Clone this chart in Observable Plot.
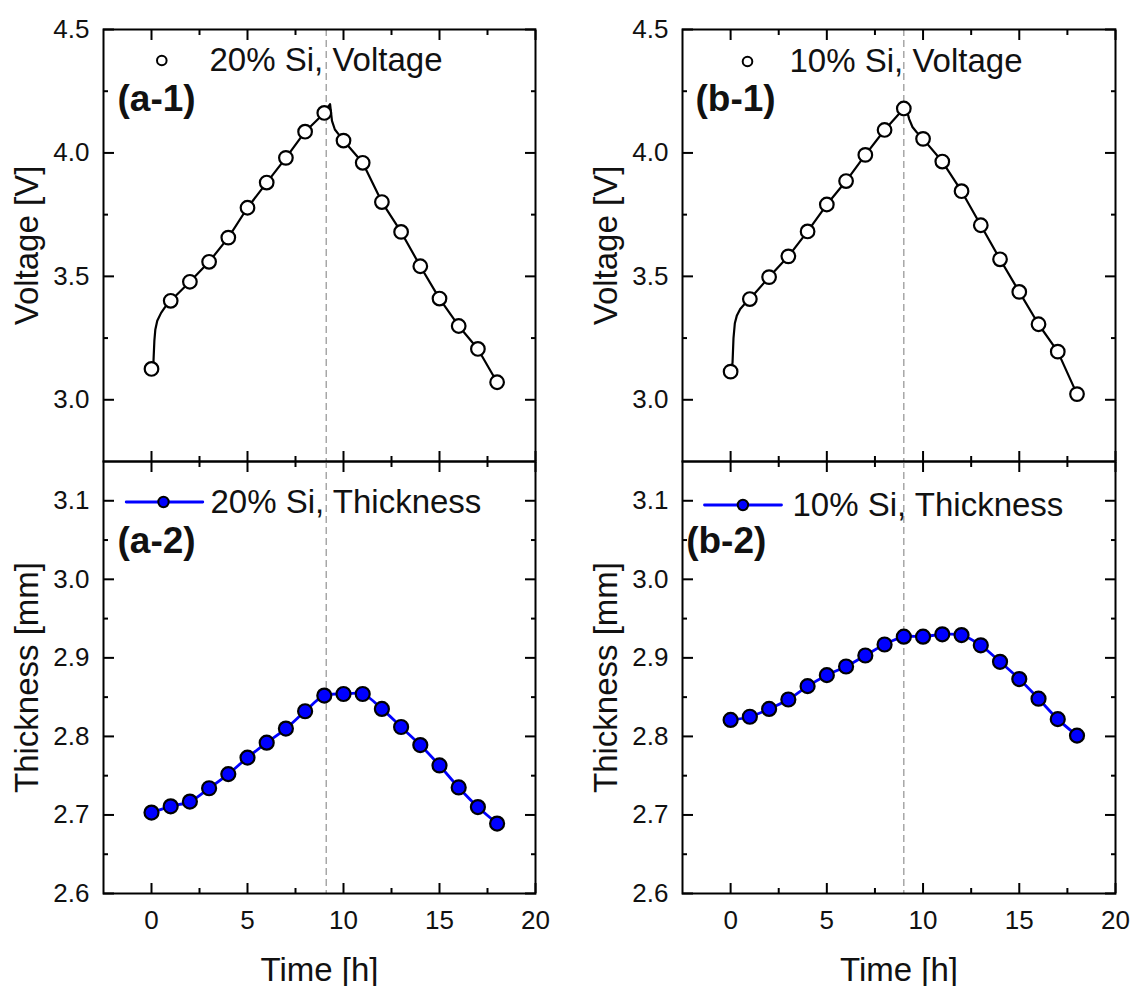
<!DOCTYPE html>
<html>
<head>
<meta charset="utf-8">
<script src="https://cdn.jsdelivr.net/npm/d3@7"></script>
<script src="https://cdn.jsdelivr.net/npm/@observablehq/plot@0.6"></script>
<style>
  body { margin: 0; background: #fff; }
  #chart { position: relative; width: 1133px; height: 986px; background: #fff; }
  #chart > svg { position: absolute; overflow: visible; }
</style>
</head>
<body>
<div id="chart"></div>
<script>
// ---------------- data ----------------
const hours = [0, 1, 2, 3, 4, 5, 6, 7, 8, 9, 10, 11, 12, 13, 14, 15, 16, 17, 18];

// marker values (one per hour)
const voltage20 = [3.125, 3.401, 3.478, 3.559, 3.657, 3.778, 3.880, 3.980, 4.086, 4.162, 4.050, 3.960, 3.801, 3.680, 3.541, 3.410, 3.299, 3.206, 3.071];
const voltage10 = [3.114, 3.408, 3.497, 3.581, 3.682, 3.791, 3.886, 3.992, 4.093, 4.180, 4.057, 3.965, 3.845, 3.707, 3.569, 3.437, 3.306, 3.195, 3.023];
const thickness20 = [2.703, 2.711, 2.717, 2.734, 2.752, 2.773, 2.792, 2.810, 2.832, 2.852, 2.854, 2.854, 2.835, 2.812, 2.789, 2.763, 2.735, 2.710, 2.689];
const thickness10 = [2.821, 2.825, 2.835, 2.847, 2.864, 2.878, 2.889, 2.903, 2.917, 2.927, 2.927, 2.930, 2.929, 2.916, 2.895, 2.873, 2.848, 2.822, 2.801];

// continuous voltage traces
const traceTime20 = [0, 0.1, 0.15, 0.2, 0.3, 0.5, 0.75, 1, 2, 3, 4, 5, 6, 7, 8, 9, 9.3, 9.4, 9.55, 9.75, 10, 11, 12, 13, 14, 15, 16, 17, 18];
const traceVolt20 = [3.125, 3.15, 3.24, 3.285, 3.32, 3.352, 3.38, 3.401, 3.478, 3.559, 3.657, 3.778, 3.880, 3.980, 4.086, 4.162, 4.198, 4.13, 4.095, 4.075, 4.050, 3.960, 3.801, 3.680, 3.541, 3.410, 3.299, 3.206, 3.071];
const traceTime10 = [0, 0.1, 0.15, 0.22, 0.32, 0.5, 0.75, 1, 2, 3, 4, 5, 6, 7, 8, 9, 9.1, 9.28, 9.45, 9.66, 10, 11, 12, 13, 14, 15, 16, 17, 18];
const traceVolt10 = [3.114, 3.15, 3.25, 3.31, 3.34, 3.368, 3.39, 3.408, 3.497, 3.581, 3.682, 3.791, 3.886, 3.992, 4.093, 4.180, 4.19, 4.137, 4.105, 4.085, 4.057, 3.965, 3.845, 3.707, 3.569, 3.437, 3.306, 3.195, 3.023];

// switch time (dashed line)
const switchTime20 = 9.1;
const switchTime10 = 9.0;

// ticks
const xDomain = [-2.5, 20];
const xMajor = [0, 5, 10, 15, 20];
const xMinor = [2.5, 7.5, 12.5, 17.5];
const voltDomain = [2.75, 4.5];
const voltMajor = [3.0, 3.5, 4.0, 4.5];
const voltMinor = [3.25, 3.75, 4.25];
const thickDomain = [2.6, 3.15];
const thickMajor = [2.6, 2.7, 2.8, 2.9, 3.0, 3.1];
const thickMinor = [2.65, 2.75, 2.85, 2.95, 3.05];

// texts
const panelLabels = ["(a-1)", "(a-2)", "(b-1)", "(b-2)"];
const legendLabels = ["20% Si, Voltage", "20% Si, Thickness", "10% Si, Voltage", "10% Si, Thickness"];
const voltTitle = "Voltage [V]";
const thickTitle = "Thickness [mm]";
const timeTitle = "Time [h]";

// ---------------- drawing ----------------
const FONT = '"Liberation Sans", Arial, Helvetica, sans-serif';
const BLUE = "#0000ff";
const INK = "#111";
const TICKFONT = 26;
const fmt1 = d3.format(".1f");
const fmtInt = d3.format("d");

const rows = (xs, ys) => xs.map((x, i) => ({x, y: ys[i]}));

function frameTicks(yMajor, yMinor) {
  const common = {strokeWidth: 2, stroke: "black", fill: "none", label: null};
  return [
    Plot.axisX({...common, anchor: "bottom", ticks: xMajor, tickSize: -10}),
    Plot.axisX({...common, anchor: "bottom", ticks: xMinor, tickSize: -5}),
    Plot.axisX({...common, anchor: "top", ticks: xMajor, tickSize: -10}),
    Plot.axisX({...common, anchor: "top", ticks: xMinor, tickSize: -5}),
    Plot.axisY({...common, anchor: "left", ticks: yMajor, tickSize: -11}),
    Plot.axisY({...common, anchor: "left", ticks: yMinor, tickSize: -5}),
    Plot.axisY({...common, anchor: "right", ticks: yMajor, tickSize: -11}),
    Plot.axisY({...common, anchor: "right", ticks: yMinor, tickSize: -5})
  ];
}

function makePanel(o) {
  const marks = [
    Plot.ruleX([o.dashX], {stroke: "#9a9a9a", strokeWidth: 1.3, strokeDasharray: "7,4"}),
    ...o.series,
    Plot.frame({stroke: "black", strokeWidth: 2}),
    ...frameTicks(o.yMajor, o.yMinor),
    // y tick labels
    Plot.text(o.yMajor, {y: d => d, frameAnchor: "left", dx: -14, textAnchor: "end", lineAnchor: "middle",
      text: fmt1, fontSize: TICKFONT, fill: INK}),
    Plot.text([o.yTitle], {frameAnchor: "left", dx: -76, rotate: -90, fontSize: 33,
      textAnchor: "middle", lineAnchor: "middle", text: d => d, fill: INK}),
    ...o.legend,
    Plot.text([o.panelLabel], {frameAnchor: "top-left", dx: o.labelDx, dy: o.labelDy, fontSize: 37,
      fontWeight: "bold", textAnchor: "start", lineAnchor: "middle", text: d => d, fill: INK})
  ];
  if (o.showX) {
    marks.push(
      Plot.text(xMajor, {x: d => d, frameAnchor: "bottom", dy: 17, textAnchor: "middle", lineAnchor: "top",
        text: fmtInt, fontSize: TICKFONT, fill: INK}),
      Plot.text([timeTitle], {frameAnchor: "bottom", dy: 77, fontSize: 33, textAnchor: "middle",
        lineAnchor: "middle", text: d => d, fill: INK})
    );
  }
  const svg = Plot.plot({
    width: o.width,
    height: o.height,
    marginLeft: o.marginLeft,
    marginRight: o.marginRight,
    marginTop: o.marginTop,
    marginBottom: o.marginBottom,
    style: {fontFamily: FONT, color: "black", background: "transparent", overflow: "visible"},
    x: {domain: xDomain},
    y: {domain: o.yDomain},
    marks
  });
  svg.style.left = o.left + "px";
  svg.style.top = o.top + "px";
  return svg;
}

function voltageSeries(tT, tV, vals) {
  return [
    Plot.line(rows(tT, tV), {x: "x", y: "y", stroke: "black", strokeWidth: 2.2, curve: "linear"}),
    Plot.dot(rows(hours, vals), {x: "x", y: "y", r: 6.8, stroke: "black", strokeWidth: 2.2, fill: "white"})
  ];
}
function thicknessSeries(vals) {
  return [
    Plot.line(rows(hours, vals), {x: "x", y: "y", stroke: BLUE, strokeWidth: 2.8, curve: "catmull-rom"}),
    Plot.dot(rows(hours, vals), {x: "x", y: "y", r: 7, stroke: "black", strokeWidth: 2.2, fill: BLUE})
  ];
}
function voltageLegend(label, cx, tx, dy) {
  return [
    Plot.dot([0], {frameAnchor: "top-left", dx: cx, dy: dy, r: 4.8, stroke: "black", strokeWidth: 2, fill: "white"}),
    Plot.text([label], {frameAnchor: "top-left", dx: tx, dy: dy + 0.4, fontSize: 33, textAnchor: "start",
      lineAnchor: "middle", text: d => d, fill: INK})
  ];
}
function thicknessLegend(label, lx, len, cx, tx, dy) {
  return [
    Plot.vector([0], {frameAnchor: "top-left", dx: lx, dy: dy, rotate: 90, length: len, anchor: "start",
      shape: "spike", r: 0, stroke: BLUE, strokeWidth: 2.8}),
    Plot.dot([0], {frameAnchor: "top-left", dx: cx, dy: dy, r: 5.2, fill: BLUE, stroke: "black", strokeWidth: 2}),
    Plot.text([label], {frameAnchor: "top-left", dx: tx, dy: dy, fontSize: 33, textAnchor: "start",
      lineAnchor: "middle", text: d => d, fill: INK})
  ];
}

const chart = document.getElementById("chart");

// left column: frame x 103..535 ; right column: frame x 682..1115
const leftCol = {left: 0, width: 566, marginLeft: 103, marginRight: 31};
const rightCol = {left: 566, width: 567, marginLeft: 116, marginRight: 18};
const topRow = {top: 0, height: 461, marginTop: 29, marginBottom: 0};
const botRow = {top: 461, height: 525, marginTop: 0, marginBottom: 93};

chart.appendChild(makePanel({
  ...leftCol, ...topRow, yDomain: voltDomain, yMajor: voltMajor, yMinor: voltMinor,
  dashX: switchTime20, yTitle: voltTitle, panelLabel: panelLabels[0], labelDx: 14, labelDy: 70,
  series: voltageSeries(traceTime20, traceVolt20, voltage20),
  legend: voltageLegend(legendLabels[0], 58.3, 106, 31), showX: false
}));
chart.appendChild(makePanel({
  ...leftCol, ...botRow, yDomain: thickDomain, yMajor: thickMajor, yMinor: thickMinor,
  dashX: switchTime20, yTitle: thickTitle, panelLabel: panelLabels[1], labelDx: 14, labelDy: 80,
  series: thicknessSeries(thickness20),
  legend: thicknessLegend(legendLabels[1], 22.7, 76.6, 60, 107, 40.5), showX: true
}));
chart.appendChild(makePanel({
  ...rightCol, ...topRow, yDomain: voltDomain, yMajor: voltMajor, yMinor: voltMinor,
  dashX: switchTime10, yTitle: voltTitle, panelLabel: panelLabels[2], labelDx: 13, labelDy: 70,
  series: voltageSeries(traceTime10, traceVolt10, voltage10),
  legend: voltageLegend(legendLabels[2], 65, 107, 32), showX: false
}));
chart.appendChild(makePanel({
  ...rightCol, ...botRow, yDomain: thickDomain, yMajor: thickMajor, yMinor: thickMinor,
  dashX: switchTime10, yTitle: thickTitle, panelLabel: panelLabels[3], labelDx: 3.7, labelDy: 80,
  series: thicknessSeries(thickness10),
  legend: thicknessLegend(legendLabels[3], 22, 77, 60.4, 110, 43.5), showX: true
}));
</script>
</body>
</html>
